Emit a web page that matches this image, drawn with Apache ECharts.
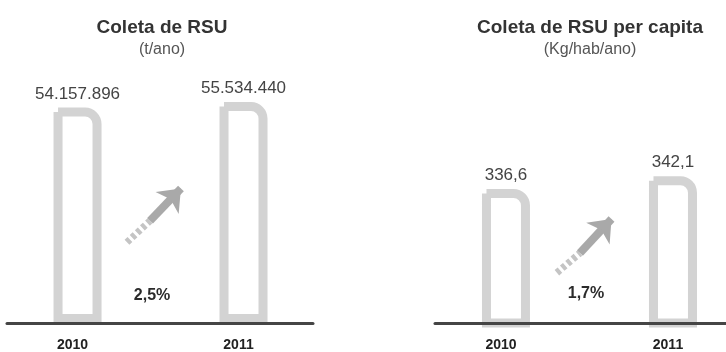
<!DOCTYPE html>
<html>
<head>
<meta charset="utf-8">
<script src="https://cdn.jsdelivr.net/npm/echarts@6/dist/echarts.min.js"></script>
<style>
  html, body { margin: 0; background: #fff; }
  #chart { width: 726px; height: 352px; }
</style>
</head>
<body>
<div id="chart"></div>
<script>
const years = ['2010', '2011'];
const coletaTotal = [54157896, 55534440];   // t/ano
const coletaPerCapita = [336.6, 342.1];     // Kg/hab/ano
const crescimento = ['2,5%', '1,7%'];
const titulos = ['Coleta de RSU', 'Coleta de RSU per capita'];
const unidades = ['(t/ano)', '(Kg/hab/ano)'];

const FONT = '"Liberation Sans", Arial, sans-serif';

// formato brasileiro: 54.157.896 / 336,6
function fmt(v) {
  const parts = String(v).split('.');
  parts[0] = parts[0].replace(/\B(?=(\d{3})+(?!\d))/g, '.');
  return parts.join(',');
}

function xAxisFor(idx, max) {
  return {
    type: 'value', gridIndex: idx, min: -0.425, max: max,
    axisLine: { show: true, onZero: false, lineStyle: { color: '#454545', width: 3 } },
    axisTick: { show: false },
    splitLine: { show: false },
    axisLabel: {
      customValues: [0, 1],
      formatter: v => years[Math.round(v)],
      margin: 15, padding: [0, 10, 0, 0],
      fontSize: 14, fontWeight: 'bold', color: '#222', fontFamily: FONT
    },
    z: 5
  };
}

function barSeries(idx, values, arrows, pct) {
  return {
    type: 'bar', xAxisIndex: idx, yAxisIndex: idx,
    barWidth: 48,
    data: values.map((v, i) => [i, v]),
    itemStyle: { color: '#fff', borderColor: '#d3d3d3', borderWidth: 9, borderRadius: [0, 12, 0, 0] },
    label: {
      show: true, position: 'top', distance: 5,
      formatter: p => fmt(p.value[1]),
      fontSize: 17, color: '#444', fontFamily: FONT
    },
    markLine: {
      silent: true, animation: false,
      symbol: ['none', 'none'],
      label: { show: false },
      data: [
        [{ coord: arrows[0], lineStyle: { color: '#c4c4c4', width: 7, type: [4, 3] } }, { coord: arrows[1] }],
        [{ coord: arrows[1], lineStyle: { color: '#a9a9a9', width: 8, type: 'solid' } },
         { coord: arrows[2], symbol: 'arrow', symbolSize: [24, 20] }]
      ]
    },
    markPoint: {
      silent: true, animation: false,
      symbol: 'circle', symbolSize: 1,
      itemStyle: { color: 'transparent' },
      label: { show: true, position: 'inside', formatter: '{b}', fontSize: 16, fontWeight: 'bold', color: '#2b2b2b', fontFamily: FONT },
      data: [{ name: pct[0], coord: pct[1] }]
    }
  };
}

const chart = echarts.init(document.getElementById('chart'));

chart.setOption({
  backgroundColor: '#fff',
  animation: false,
  title: [0, 1].map(i => ({
    text: titulos[i], subtext: unidades[i],
    left: i === 0 ? 162 : 590, top: 18, textAlign: 'center',
    padding: 0, itemGap: 5,
    textStyle: { fontSize: 19, fontWeight: 'bold', color: '#333', fontFamily: FONT },
    subtextStyle: { fontSize: 16, color: '#555', fontFamily: FONT }
  })),
  grid: [
    { left: 7, width: 306, top: 48.5, bottom: 24 },
    { left: 435, right: 0, top: 48.5, bottom: 24 }
  ],
  xAxis: [xAxisFor(0, 1.4187), xAxisFor(1, 1.3175)],
  yAxis: [
    { type: 'value', gridIndex: 0, min: 0, max: 69000000, show: false },
    { type: 'value', gridIndex: 1, min: 279, max: 397, show: false }
  ],
  series: [
    barSeries(0, coletaTotal,
      [[0.298, 20300000], [0.437, 25700000], [0.623, 33800000]],
      [crescimento[0], [0.449, 6900000]]),
    barSeries(1, coletaPerCapita,
      [[0.305, 300.6], [0.443, 309.1], [0.632, 323.7]],
      [crescimento[1], [0.479, 291.8]])
  ]
});
</script>
</body>
</html>
